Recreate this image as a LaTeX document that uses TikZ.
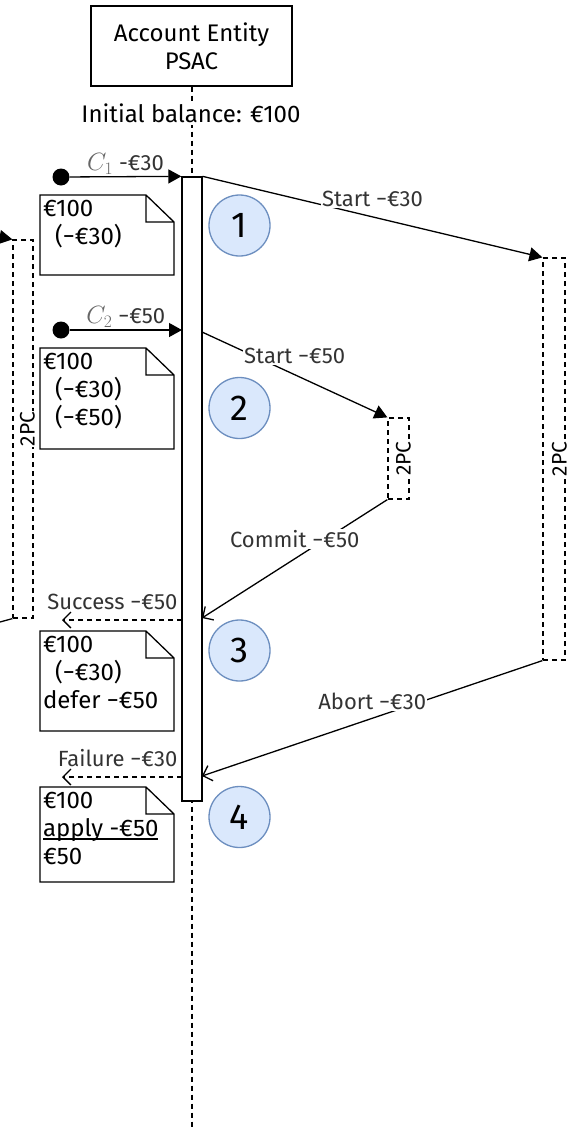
\RequirePackage{fix-cm}
\documentclass[tikz,border=0pt]{standalone}
\usepackage{fontspec}
\setmainfont{Fira Sans}
\usetikzlibrary{arrows.meta,positioning,calc}

\definecolor{stepfill}{HTML}{DAE8FC}
\definecolor{stepline}{HTML}{6C8EBF}
\definecolor{labelgray}{HTML}{333333}

% thick underline sitting just under the baseline
\newcommand{\thickul}[1]{\setbox0\hbox{#1}\rlap{\rule[-3.5pt]{\wd0}{2pt}}\box0}
% client name in the message labels
\newcommand{\client}[1]{{\fontsize{25}{25}\selectfont\color{black!60}$C_{#1}$}}

\tikzset{
  lifeline/.style={dash pattern=on 5pt off 4pt, line width=1.2pt},
  actor/.style={draw, line width=1.3pt, minimum width=201, minimum height=80, align=center, font=\fontsize{24}{28}\selectfont},
  activation/.style={draw, line width=1.3pt, fill=white, minimum width=20, minimum height=624, inner sep=0},
  twopc/.style={draw, dash pattern=on 5pt off 4pt, line width=1.2pt, inner sep=0},
  twopclabel/.style={rotate=90, anchor=base, fill=white, inner sep=1pt, font=\fontsize{21}{21}\selectfont},
  stepmark/.style={circle, draw=stepline, fill=stepfill, line width=1.3pt, minimum size=61, inner sep=0, font=\fontsize{36}{36}\selectfont},
  client/.style={circle, fill=black, minimum size=17, inner sep=0},
  msg/.style={line width=1.3pt, -{Triangle[length=13pt,width=14pt]}},
  reply/.style={line width=1.3pt, -{Straight Barb[length=8pt,width=16pt]}},
  result/.style={reply, dash pattern=on 5pt off 4pt},
  lbl/.style={fill=white, text=labelgray, inner sep=1pt, font=\fontsize{22}{22}\selectfont},
  clabel/.style={text=labelgray, inner sep=1pt, font=\fontsize{22}{22}\selectfont},
  notetext/.style={anchor=north west, align=left, inner xsep=3pt, inner ysep=5pt, outer sep=0, font=\fontsize{24}{28}\selectfont},
  notebox/.style={line width=1.3pt},
}

\begin{document}
\begin{tikzpicture}[x=1pt, y=-1pt]
  \useasboundingbox (0,0) rectangle (573,1130);
  \clip (0,0) rectangle (573,1130);

  % Account entity and lifeline
  \node[actor] (psac) at (191.5,46) {Account Entity\\PSAC};
  \coordinate (lifeend) at (192,1130);
  \draw[lifeline] (psac.south -| lifeend) -- (lifeend);
  \node[fill=white, inner sep=2pt, font=\fontsize{24}{24}\selectfont] (balance) at (191,113) {Initial balance: €100};

  % Activation
  \node[activation] (bar) at (192,489) {};

  % Clients
  \node[client] (c1) at (61,177) {};
  \node[client] (c2) at (61,330) {};

  % 2PC sessions
  \node[twopc, minimum width=21, minimum height=81] (mid) at (398.5,458.5) {};
  \node[twopc, minimum width=22, minimum height=402] (far) at (554,459) {};
  \node[twopc, minimum width=20, minimum height=378] (left) at (23,429) {};
  \foreach \b in {mid,far,left}
    \node[twopclabel] at ([xshift=1pt]\b.east) {2PC};

  % Steps
  \foreach \i/\y in {1/225.5,2/408,3/650.5,4/817}
    \node[stepmark] (s\i) at (239.5,\y) {\i};

  % Contact points on the activation
  \coordinate (c2in) at (182,330);
  \coordinate (s2out) at (202,332);
  \coordinate (cmin) at (202,618);
  \coordinate (sucout) at (182,620);
  \coordinate (abin) at (202,776);
  \coordinate (failout) at (182,777);
  \coordinate (sucend) at (62,620);
  \coordinate (failend) at (62,777);
  \coordinate (offin) at (-60,226);
  \coordinate (offout) at (-40,633);

  % Messages
  \draw[msg] (c1) -- (bar.north west) node[clabel, midway, above=1pt] {\client{1}\ -€30};
  \draw[msg] (bar.north east) -- (far.north west) node[lbl, midway, yshift=18pt] {Start −€30};
  \draw[msg] (c2) -- (c2in) node[clabel, midway, above=1pt] {\client{2}\ −€50};
  \draw[msg] (s2out) -- (mid.north west) node[lbl, midway, yshift=19pt] {Start −€50};
  \draw[reply] (mid.south west) -- (cmin) node[lbl, midway, yshift=20pt] {Commit −€50};
  \draw[reply] (far.south west) -- (abin) node[lbl, midway, yshift=17pt] {Abort −€30};
  \draw[result] (sucout) -- (sucend) node[lbl, pos=0, anchor=south east, xshift=-3pt, yshift=9pt] {Success −€50};
  \draw[result] (failout) -- (failend) node[lbl, pos=0, anchor=south east, xshift=-3pt, yshift=9pt] {Failure −€30};
  \draw[msg] (offin) -- (left.north west);
  \draw[line width=1.3pt] (left.south west) -- (offout);

  % Balance notes
  \node[notetext] (n1) at (40,195) {€100\\\hspace*{12pt}(−€30)};
  \node[notetext] (n2) at (40,348) {€100\\\hspace*{12pt}(−€30)\\\hspace*{12pt}(−€50)};
  \node[notetext] (n3) at (40,631) {€100\\\hspace*{12pt}(−€30)\\defer −€50};
  \node[notetext] (n4) at (40,787) {€100\\\thickul{apply -€50}\\€50};
  \foreach \n/\h in {n1/80,n2/101,n3/100,n4/95}
    \draw[notebox] (\n.north west) -- ++(106,0) -- ++(28,27) -- ++(0,{\h-27}) -- ++(-134,0) -- cycle
      ([xshift=106pt]\n.north west) -- ++(0,27) -- ++(28,0);
\end{tikzpicture}
\end{document}
